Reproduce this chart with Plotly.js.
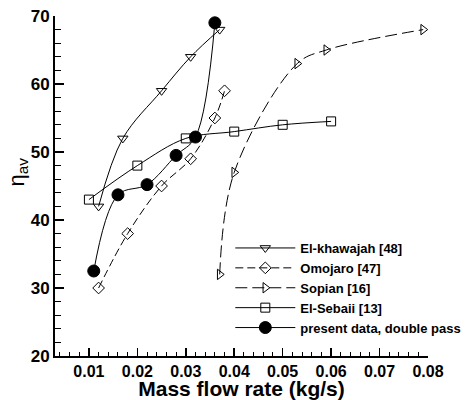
<!DOCTYPE html>
<html><head><meta charset="utf-8">
<script src="https://cdn.plot.ly/plotly-3.0.1.min.js"></script>
<style>html,body{margin:0;padding:0;background:#fff}#chart{width:465px;height:400px}</style>
</head><body><div id="chart"></div>
<script>
const khawajahX = [0.012, 0.017, 0.025, 0.031, 0.037];
const khawajahY = [42, 52, 59, 64, 68];
const omojaroX = [0.012, 0.018, 0.025, 0.031, 0.036, 0.038];
const omojaroY = [30, 38, 45, 49, 55, 59];
const sopianX = [0.037, 0.040, 0.053, 0.059, 0.079];
const sopianY = [32, 47, 63, 65, 68];
const sebaiiX = [0.010, 0.020, 0.030, 0.040, 0.050, 0.060];
const sebaiiY = [43, 48, 52, 53, 54, 54.5];
const presentX = [0.011, 0.016, 0.022, 0.028, 0.032, 0.036];
const presentY = [32.5, 43.7, 45.2, 49.5, 52.2, 69];

const seriesNames = ['El-khawajah [48]', 'Omojaro [47]', 'Sopian [16]', 'El-Sebaii [13]', 'present data, double pass'];
const xTickVals = [0.01, 0.02, 0.03, 0.04, 0.05, 0.06, 0.07, 0.08];
const yTickVals = [20, 30, 40, 50, 60, 70];

const FONT = 'Liberation Sans, Arial, Helvetica, sans-serif';
function tr(x, y, name, symbol, dash, size) {
  return {
    x: x, y: y, name: name, type: 'scatter', mode: 'lines+markers',
    line: {color: 'black', width: 1, shape: 'spline', dash: dash},
    marker: {symbol: symbol, size: size, color: 'black', line: {color: 'black', width: 1}}
  };
}
const data = [
  tr(khawajahX, khawajahY, seriesNames[0], 'triangle-down-open', 'solid', 9),
  tr(omojaroX, omojaroY, seriesNames[1], 'diamond-open', '8px,4px', 9),
  tr(sopianX, sopianY, seriesNames[2], 'triangle-right-open', '12px,5px', 9),
  tr(sebaiiX, sebaiiY, seriesNames[3], 'square-open', 'solid', 9),
  tr(presentX, presentY, seriesNames[4], 'circle', 'solid', 12)
];
const layout = {
  width: 465, height: 400,
  margin: {l: 55, r: 37, t: 16, b: 44, autoexpand: false},
  paper_bgcolor: 'white', plot_bgcolor: 'white',
  font: {family: FONT, color: 'black'},
  showlegend: true,
  legend: {
    x: 0.47, xanchor: 'left', y: 0.2, yanchor: 'middle',
    bgcolor: 'rgba(0,0,0,0)', borderwidth: 0,
    itemwidth: 60,
    font: {family: FONT, size: 13, weight: 'bold', color: 'black'},
    tracegroupgap: 0
  },
  annotations: [{
    xref: 'paper', yref: 'paper', x: -0.099, y: 0.54, xanchor: 'center', yanchor: 'middle',
    textangle: -90, showarrow: false,
    text: 'η<sub>av</sub>',
    font: {family: FONT, size: 22, color: 'black'}
  }],
  xaxis: {
    range: [0.003, 0.08], showgrid: false, zeroline: false,
    showline: true, linecolor: 'black', linewidth: 2, mirror: false,
    ticks: 'inside', ticklen: 8, tickwidth: 1.5, tickcolor: 'black',
    tickmode: 'array', tickvals: xTickVals, ticktext: xTickVals.map(v => v.toFixed(2)),
    minor: {dtick: 0.002, tick0: 0, ticks: 'inside', ticklen: 4, tickwidth: 1, tickcolor: 'black', showgrid: false},
    tickfont: {family: FONT, size: 16, weight: 'bold', color: 'black'},
    title: {text: 'Mass flow rate (kg/s)', standoff: 7,
      font: {family: FONT, size: 21, weight: 'bold', color: 'black'}},
    automargin: false
  },
  yaxis: {
    range: [20, 70], showgrid: false, zeroline: false,
    showline: true, linecolor: 'black', linewidth: 2, mirror: false,
    ticks: 'inside', ticklen: 9, tickwidth: 1.5, tickcolor: 'black',
    tickmode: 'array', tickvals: yTickVals,
    minor: {dtick: 2, tick0: 0, ticks: 'inside', ticklen: 6, tickwidth: 1, tickcolor: 'black', showgrid: false},
    tickfont: {family: FONT, size: 17, weight: 'bold', color: 'black'},
    automargin: false
  }
};
Plotly.newPlot('chart', data, layout, {displayModeBar: false, staticPlot: true});
</script>
</body></html>
